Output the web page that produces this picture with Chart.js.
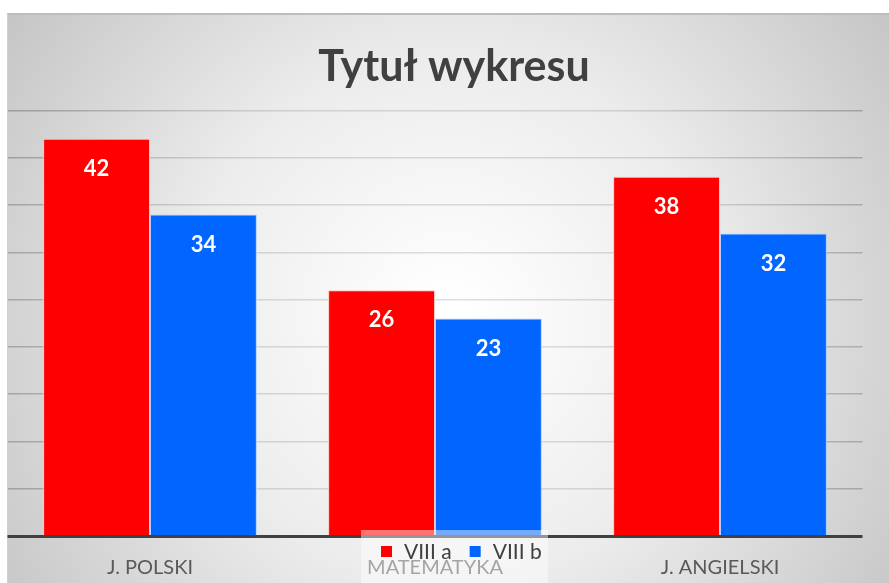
<!DOCTYPE html>
<html>
<head>
<meta charset="utf-8">
<script src="https://cdn.jsdelivr.net/npm/chart.js@4.4.1/dist/chart.umd.min.js"></script>
<style>
  html, body { margin: 0; padding: 0; background: #fff; }
  #wrap { width: 889px; height: 583px; position: relative; }
</style>
</head>
<body>
<div id="wrap"><canvas id="chartJS" width="889" height="583"></canvas></div>
<script>
const labels = ['J. POLSKI', 'MATEMATYKA', 'J. ANGIELSKI'];
const viiiA = [42, 26, 38];
const viiiB = [34, 23, 32];
const seriesNames = ['VIII a', 'VIII b'];
const chartTitle = 'Tytuł wykresu';

const canvas = document.getElementById('chartJS');
const ctx0 = canvas.getContext('2d');

// tło: szary gradient radialny, jasny środek
const bgGrad = ctx0.createRadialGradient(450, 320, 20, 450, 320, 560);
bgGrad.addColorStop(0, '#ffffff');
bgGrad.addColorStop(0.45, '#ececec');
bgGrad.addColorStop(1, '#c2c2c2');

// linie siatki ciemniejsze przy brzegach
const gridGrad = ctx0.createRadialGradient(450, 320, 20, 450, 320, 560);
gridGrad.addColorStop(0, '#dedede');
gridGrad.addColorStop(0.45, '#cfcfcf');
gridGrad.addColorStop(1, '#8a8a8a');

const background = {
    id: 'background',
    beforeDraw(chart) {
        const c = chart.ctx;
        c.save();
        c.fillStyle = '#ffffff';
        c.fillRect(0, 0, chart.width, chart.height);
        c.fillStyle = bgGrad;
        c.fillRect(7, 14, chart.width - 7, chart.height - 14);
        c.fillStyle = '#bdbdbd';
        c.fillRect(7, 13, chart.width - 7, 2);
        c.fillStyle = '#d0d0d0';
        c.fillRect(7, 14, 1, chart.height - 14);
        // tytuł (przesunięty w prawo jak w oryginale)
        c.fillStyle = '#404040';
        c.font = 'bold 43px Lato, "Open Sans", sans-serif';
        c.textAlign = 'center';
        c.textBaseline = 'alphabetic';
        c.fillText(chartTitle, 454, 81);
        c.restore();
    }
};

// wartości na słupkach + linia osi X
const barValues = {
    id: 'barValues',
    afterDatasetsDraw(chart) {
        const c = chart.ctx;
        const a = chart.chartArea;
        c.save();
        c.fillStyle = '#404040';
        c.fillRect(a.left, a.bottom - 1, a.right - a.left, 3);
        c.fillStyle = '#ffffff';
        c.font = 'bold 22px Lato, "Open Sans", sans-serif';
        c.textAlign = 'center';
        c.textBaseline = 'middle';
        chart.data.datasets.forEach((ds, i) => {
            chart.getDatasetMeta(i).data.forEach((bar, j) => {
                c.fillText(String(ds.data[j]), bar.x, bar.y + 30);
            });
        });
        c.restore();
    }
};

// legenda nachodząca na oś X (jak w oryginale)
const overlayLegend = {
    id: 'overlayLegend',
    afterDraw(chart) {
        const c = chart.ctx;
        const x0 = 361, y0 = 530, w = 187, h = chart.height - 530;
        c.save();
        c.fillStyle = 'rgba(255,255,255,0.45)';
        c.fillRect(x0, y0, w, h);
        c.font = '21px Lato, "Open Sans", sans-serif';
        c.textBaseline = 'middle';
        c.textAlign = 'left';
        let x = x0 + 20;
        chart.data.datasets.forEach((ds) => {
            c.fillStyle = ds.backgroundColor;
            c.fillRect(x, 546, 11, 11);
            c.fillStyle = '#404040';
            c.fillText(ds.label, x + 23, 552);
            x += 23 + c.measureText(ds.label).width + 18;
        });
        c.restore();
    }
};

const data = {
    labels: labels,
    datasets: [{
        label: seriesNames[0],
        data: viiiA,
        backgroundColor: '#ff0000',
        borderColor: 'rgba(255,190,190,0.9)',
        borderWidth: 1,
        categoryPercentage: 0.75,
        barPercentage: 1.0
    },
    {
        label: seriesNames[1],
        data: viiiB,
        backgroundColor: '#0066ff',
        borderColor: 'rgba(170,205,255,0.9)',
        borderWidth: 1,
        categoryPercentage: 0.75,
        barPercentage: 1.0
    }]
};

const config = {
    type: 'bar',
    data: data,
    plugins: [background, barValues, overlayLegend],
    options: {
        responsive: false,
        animation: false,
        layout: {
            padding: { left: 7.5, right: 26.5, top: 110.5, bottom: 3 }
        },
        plugins: {
            legend: { display: false },
            tooltip: { enabled: false },
            title: { display: false }
        },
        scales: {
            x: {
                grid: { display: false, drawTicks: false },
                border: { display: false },
                ticks: {
                    color: '#595959',
                    padding: 20,
                    font: { family: 'Lato, "Open Sans", sans-serif', size: 20, lineHeight: 1.2 }
                },
                afterFit: (scale) => { scale.height = 44; }
            },
            y: {
                min: 0,
                max: 45,
                ticks: { display: false, stepSize: 5 },
                border: { display: false },
                grid: {
                    drawTicks: false,
                    lineWidth: 1.5,
                    color: (c) => (c.tick && c.tick.value === 0) ? 'rgba(0,0,0,0)' : gridGrad
                }
            }
        }
    }
};

const myChart = new Chart(canvas, config);
</script>
</body>
</html>
